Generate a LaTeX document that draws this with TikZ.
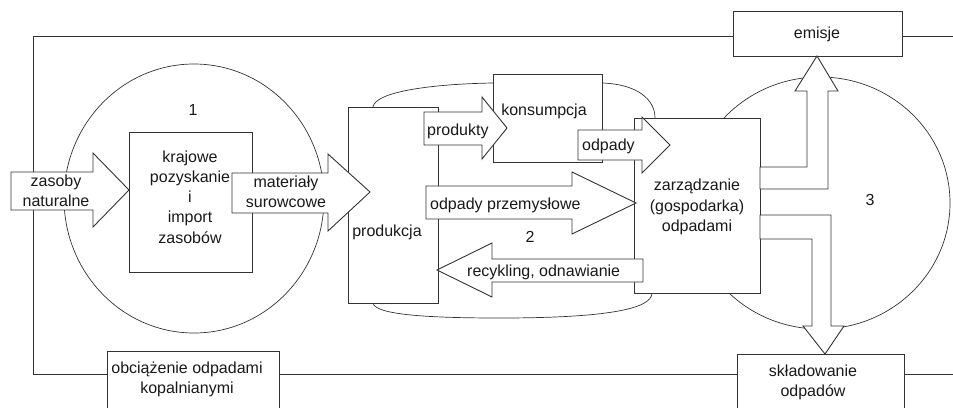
\documentclass[tikz,border=0pt]{standalone}
\usepackage{fontspec}
\setmainfont{Liberation Sans}
\usetikzlibrary{fit,shapes.geometric}
\begin{document}
\begin{tikzpicture}[x=1pt,y=-1pt,
  line/.style={draw=black!80, line width=0.9pt},
  ring/.style={draw=black!80, line width=0.7pt},
  box/.style={line, fill=white, inner sep=0pt, rectangle},
  zone/.style={ring, ellipse, inner sep=0pt},
  blockarrow/.style={line, fill=white, line join=miter},
  txt/.style={font=\fontsize{16}{20.2}\selectfont, text=black!90, inner sep=0pt, align=center},
]
\useasboundingbox (0,0) rectangle (953,407);
\clip (0,0) rectangle (953,407);

% outer frame, open on the right
\coordinate (fTR) at (953,36);
\coordinate (fTL) at (33,36);
\coordinate (fBL) at (33,374);
\coordinate (fBR) at (953,374);
\draw[line] (fTR) -- (fTL) -- (fBL) -- (fBR);

% the three zones
\node[zone, minimum width=260pt, minimum height=269pt] (z1) at (194,198.5) {};
\node[zone, minimum width=260pt, minimum height=252pt] (z3) at (820,203) {};
\draw[ring] (373,107) .. controls (375,92) and (430,84) .. (493,83) -- (602,83)
  .. controls (635,84) and (655,98) .. (655,118) -- (652,293)
  .. controls (652,310) and (600,318) .. (500,318)
  .. controls (430,318) and (375,315) .. (373,303) -- cycle;

% boxes
\node[box, fit={(129,132) (252,272)}] (kraj) {};
\node[box, fit={(348,107) (438,303)}] (prod) {};
\node[box, fit={(493,74) (602,162)}] (kons) {};
\node[box, fit={(634,118) (760,293)}] (zarz) {};
\node[box, fit={(733,11) (902,56)}] (emis) {};
\node[box, fit={(107,351) (279,420)}] (obc) {};
\node[box, fit={(737,354) (904,420)}] (skl) {};

% block arrows
\draw[blockarrow] (11,172) -- (93,172) -- (93,153) -- (129,190) -- (93,227) -- (93,210) -- (11,210) -- cycle;
\draw[blockarrow] (232,173) -- (328,173) -- (328,154) -- (370,192) -- (328,231) -- (328,213) -- (232,213) -- cycle;
\draw[blockarrow] (424,112) -- (482,112) -- (482,97) -- (507,128) -- (482,159) -- (482,145) -- (424,145) -- cycle;
\draw[blockarrow] (578,130) -- (642,130) -- (642,117) -- (670,145) -- (642,173) -- (642,160) -- (578,160) -- cycle;
\draw[blockarrow] (426,186) -- (572,186) -- (572,172) -- (636,203) -- (572,234) -- (572,219) -- (426,219) -- cycle;
\draw[blockarrow] (643,259) -- (492,259) -- (492,243) -- (437,270) -- (492,297) -- (492,282) -- (643,282) -- cycle;
\draw[blockarrow] (760,167) -- (807,167) -- (807,91) -- (795,91) -- (817,56) -- (838,91) -- (828,91) -- (828,189) -- (760,189) -- cycle;
\draw[blockarrow] (760,215) -- (831,215) -- (831,326) -- (844,326) -- (825,354) -- (803,326) -- (812,326) -- (812,239) -- (760,239) -- cycle;

% texts
\node[txt] (n1) at (193,110) {1};
\node[txt] (n2) at (530,237) {2};
\node[txt] (n3) at (870,200) {3};
\node[txt] (temis) at (817,34) {emisje};
\node[txt] (tzas) at (56,190.5) {zasoby\\naturalne};
\node[txt] (tkraj) at (190,197) {krajowe\\pozyskanie\\i\\import\\zasobów};
\node[txt] (tmat) at (286,191.5) {materiały\\surowcowe};
\node[txt] (tprod) at (387,232) {produkcja};
\node[txt, anchor=west] (tprodukty) at (427,131) {produkty};
\node[txt] (tkons) at (544,111) {konsumpcja};
\node[txt, anchor=west] (todp) at (582,146) {odpady};
\node[txt, anchor=west] (tprzem) at (430,205) {odpady przemysłowe};
\node[txt, anchor=west] (trec) at (467,272) {recykling, odnawianie};
\node[txt] (tzarz) at (697,207) {zarządzanie\\(gospodarka)\\odpadami};
\node[txt] (tobc) at (187,379.6) {obciążenie odpadami\\kopalnianymi};
\node[txt] (tskl) at (813,382.6) {składowanie\\odpadów};
\end{tikzpicture}
\end{document}
